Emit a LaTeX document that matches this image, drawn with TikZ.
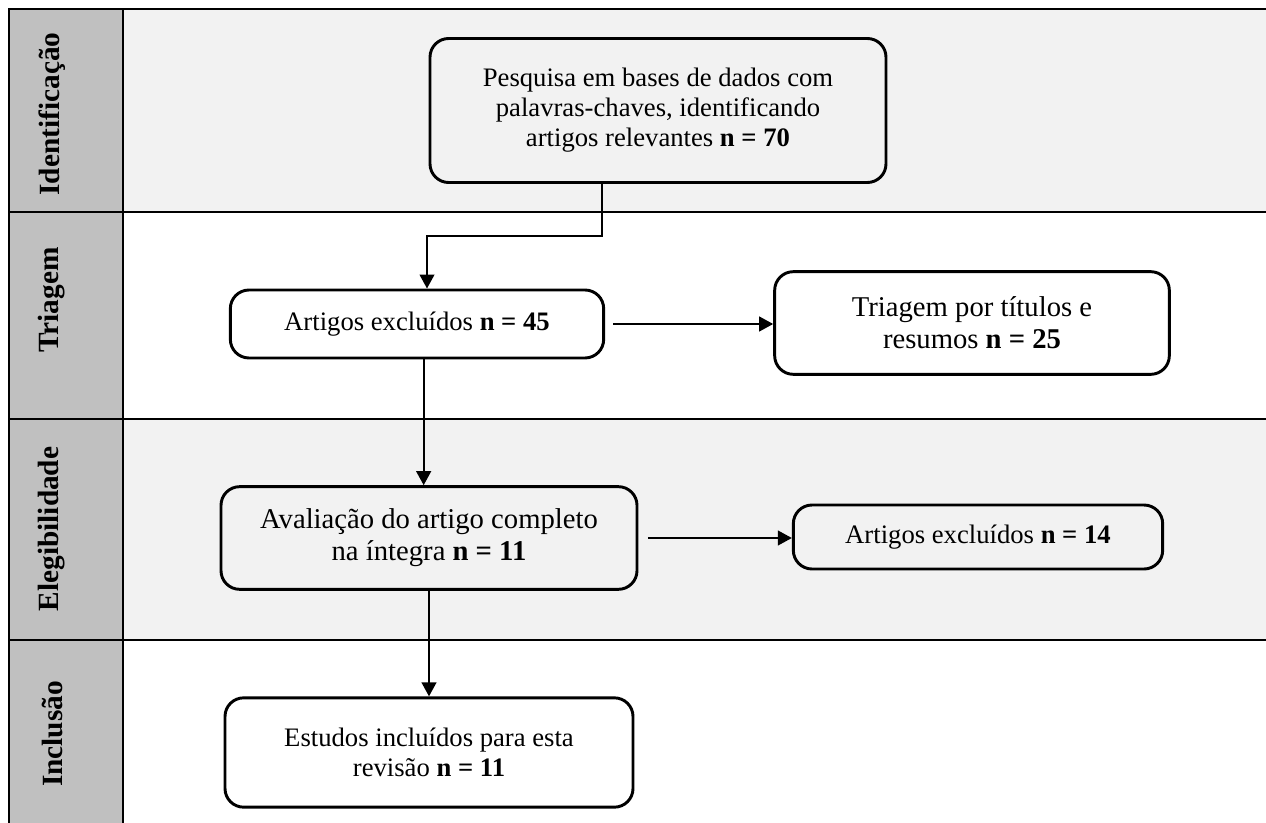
\documentclass[tikz,border=0pt]{standalone}
\usepackage{fontspec}
\setmainfont{Liberation Serif}
\usetikzlibrary{positioning,arrows.meta}
\definecolor{lanegray}{HTML}{C0C0C0}
\definecolor{rowgray}{HTML}{F2F2F2}

\begin{document}
\begin{tikzpicture}[x=0.75pt, y=-0.75pt,
        box/.style={draw, line width=2.2pt, rounded corners=14pt, align=center, inner sep=0pt},
        lane/.style={rotate=90, font=\fontsize{22}{26}\selectfont\bfseries},
        arr/.style={-{Triangle[length=10.5pt,width=11pt]}, line width=1.6pt}]
        \useasboundingbox (0,0) rectangle (1266,823);
        % bands and lane column
        \fill[rowgray] (123,9) rectangle (1266,212);
        \fill[rowgray] (123,419) rectangle (1266,640);
        \fill[lanegray] (9,9) rectangle (123,823);
        \draw[line width=1.6pt] (9,823) -- (9,9) -- (1266,9);
        \foreach \y in {212,419,640} \draw[line width=1.6pt] (9,\y) -- (1266,\y);
        \draw[line width=1.6pt] (123,9) -- (123,823);

        \node[lane] (lid) at (52,114) {Identificação};
        \node[lane] (ltr) at (52,300) {Triagem};
        \node[lane] (lel) at (52,529) {Elegibilidade};
        \node[lane] (lin) at (52,734) {Inclusão};

        \node[box, font=\fontsize{20}{22.5}\selectfont, minimum width=342pt, minimum height=108pt] (busca) at (658,110.5)
              {Pesquisa em bases de dados com\\ palavras-chaves, identificando\\ artigos relevantes \textbf{n = 70}};
        \node[box, font=\fontsize{20}{23}\selectfont, minimum width=280pt, minimum height=51pt] (excl) at (417,324)
              {Artigos excluídos \textbf{n = 45}};
        \node[box, font=\fontsize{21.5}{24}\selectfont, minimum width=296pt, minimum height=77pt] (titulos) at (972,323)
              {Triagem por títulos e\\ resumos \textbf{n = 25}};
        \node[box, font=\fontsize{21.5}{24}\selectfont, minimum width=312pt, minimum height=77pt] (integra) at (429,538)
              {Avaliação do artigo completo\\ na íntegra \textbf{n = 11}};
        \node[box, font=\fontsize{20}{23}\selectfont, minimum width=277pt, minimum height=48pt] (excl2) at (978,537)
              {Artigos excluídos \textbf{n = 14}};
        \node[box, font=\fontsize{20}{23}\selectfont, minimum width=306pt, minimum height=82pt] (incl) at (429,752.5)
              {Estudos incluídos para esta\\ revisão \textbf{n = 11}};

        \draw[arr] ([xshift=-42pt]busca.south) -- ++(0,52) -| ([xshift=7.5pt]excl.north);
        \draw[arr] ([xshift=6pt]excl.east) -- (excl.east -| titulos.west);
        \draw[arr] ([xshift=5pt]excl.south) -- ([xshift=5pt]excl.south |- integra.north);
        \draw[arr] ([xshift=7pt]integra.east) -- (integra.east -| excl2.west);
        \draw[arr] (integra.south) -- (incl.north);
    \end{tikzpicture}
\end{document}
